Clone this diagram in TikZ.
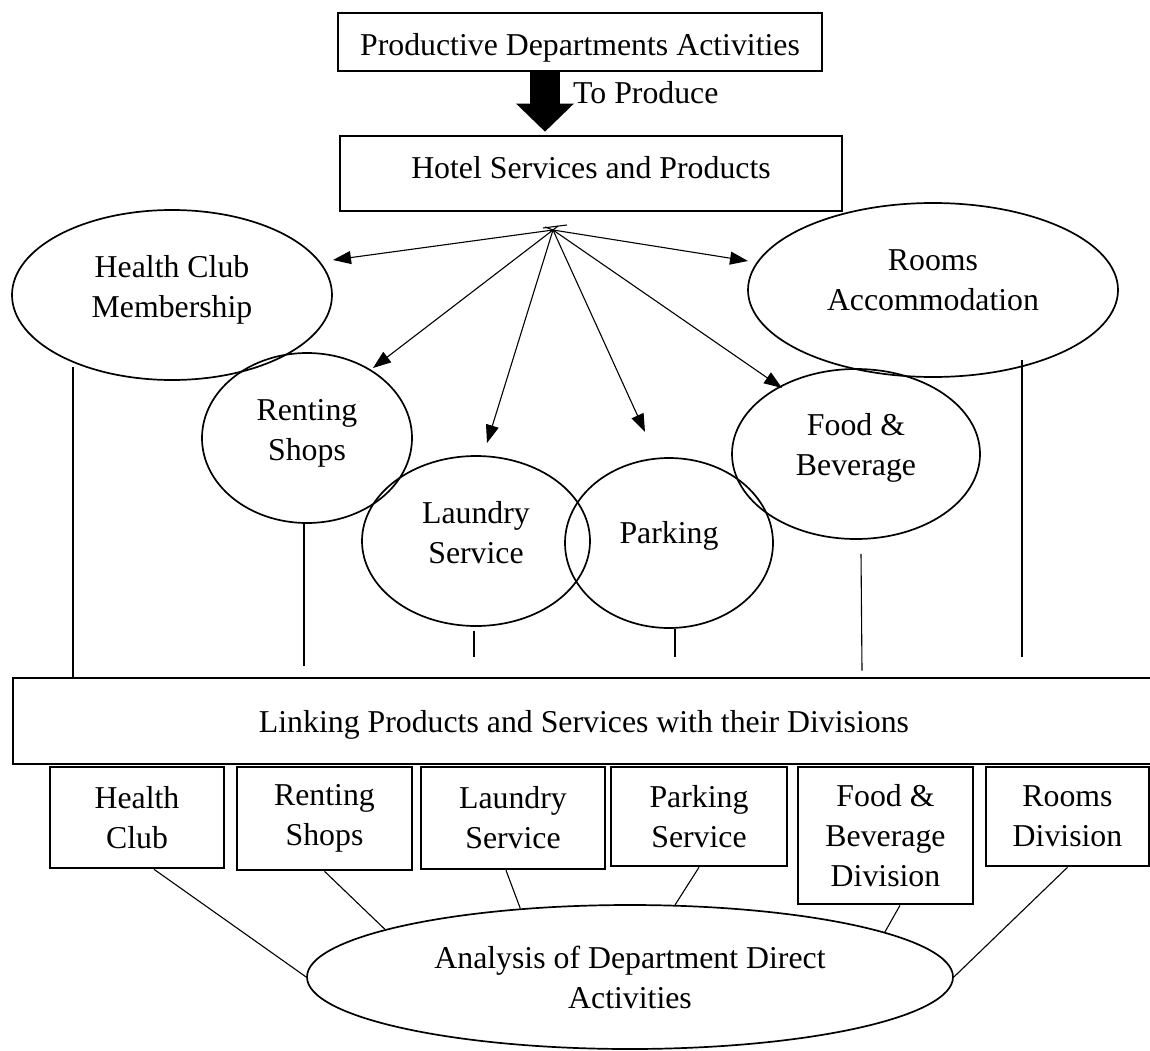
\documentclass[tikz,border=0pt]{standalone}
\usepackage{fontspec}
\setmainfont{Liberation Serif}
\usetikzlibrary{shapes.geometric,arrows.meta,calc}
\begin{document}
\begin{tikzpicture}[x=1pt,y=-1pt,
  every node/.style={font=\fontsize{31.8}{40}\selectfont},
  box/.style={draw,rectangle,line width=2.6pt,inner sep=0pt,align=center},
  oval/.style={draw,ellipse,line width=1.7pt,inner sep=0pt},
  txt/.style={align=center,inner sep=0pt},
  conn/.style={line width=1.1pt},
  arr/.style={conn,-{Triangle[length=18pt,width=13pt]}},
  bigarr/.style={line width=30pt,-{Triangle[length=28pt,width=56pt]}}]

\path[fill=white] (0,0) rectangle (1150,1051);
\useasboundingbox (0,0) rectangle (1150,1051);

% top boxes
\node[box,minimum width=484pt,minimum height=58pt] (top) at (580,42) {};
\node[txt] (topt) at ($(top)+(0,6)$) {Productive Departments Activities};
\node[box,minimum width=502pt,minimum height=75pt] (hotel) at (591,173.5) {};
\node[txt] (hotelt) at ($(hotel)+(0,-6)$) {Hotel Services and Products};
\draw[bigarr] ($(top.south)+(-35,0)$) -- ($(hotel.north)+(-46,-3)$);
\node[anchor=west,inner sep=0pt] (tp) at (573,93) {To Produce};

% products / services
\node[oval,minimum width=320pt,minimum height=170pt] (hc) at (172,295) {};
\node[txt] (hct) at ($(hc)+(0,-5)$) {Health Club\\Membership};
\node[oval,minimum width=370pt,minimum height=174pt] (ra) at (933,290) {};
\node[txt] (rat) at ($(ra)+(0,-10)$) {Rooms\\Accommodation};
\node[oval,minimum width=210pt,minimum height=170pt] (rs) at (307,438) {};
\node[txt] (rst) at ($(rs)+(0,-5)$) {Renting\\Shops};
\node[oval,minimum width=228pt,minimum height=170pt] (ls) at (476,541) {};
\node[txt] (lst) at ($(ls)+(0,-8)$) {Laundry\\Service};
\node[oval,minimum width=208pt,minimum height=170pt] (pk) at (669,543) {};
\node[txt] (pkt) at ($(pk)+(0,-7)$) {Parking};
\node[oval,minimum width=248pt,minimum height=170pt] (fb) at (856,454) {};
\node[txt] (fbt) at ($(fb)+(0,-6)$) {Food \&\\Beverage};

% hub and arrows
\coordinate (hub) at (553,230);
\draw[conn] ($(hub)+(-10,-2)$) -- ($(hub)+(14,-5)$);
\draw[conn] ($(hub)+(-8,-3)$) -- (hub) -- ($(hub)+(5,-4)$);
\coordinate (thc) at ($(hc.center)+(161,-35)$);
\coordinate (trs) at ($(rs.center)+(66,-70)$);
\coordinate (tls) at ($(ls.center)+(11,-98)$);
\coordinate (tpk) at ($(pk.center)+(-24,-111)$);
\coordinate (tfb) at ($(fb.center)+(-74,-66)$);
\coordinate (tra) at ($(ra.center)+(-185,-29)$);
\draw[arr] (hub) -- (thc);
\draw[arr] (hub) -- (trs);
\draw[arr] (hub) -- (tls);
\draw[arr] (hub) -- (tpk);
\draw[arr] (hub) -- (tfb);
\draw[arr] (hub) -- (tra);

% linking box
\node[box,minimum width=1142pt,minimum height=86pt] (link) at (584,721) {};
\node[txt] (linkt) at ($(link)+(0,4)$) {Linking Products and Services with their Divisions};

% drops
\coordinate (d1) at ($(hc.center)+(-99,72)$);
\coordinate (d2) at ($(rs.south)+(-3,0)$);
\coordinate (d3) at ($(ls.south)+(-2,4)$);
\coordinate (d4) at ($(pk.south)+(6,0)$);
\coordinate (d5) at ($(fb.south)+(5,14)$);
\coordinate (d6) at ($(ra.center)+(89,70)$);
\draw[conn] (d1) -- (d1 |- link.north);
\draw[conn] (d2) -- ($(d2 |- link.north)+(0,-11)$);
\draw[conn] (d3) -- ($(d3 |- link.north)+(0,-20)$);
\draw[conn] (d4) -- ($(d4 |- link.north)+(0,-20)$);
\draw[conn] (d5) -- ($(d5 |- link.north)+(1,-6)$);
\draw[conn] (d6) -- ($(d6 |- link.north)+(0,-20)$);

% divisions
\node[box,minimum width=174pt,minimum height=101pt] (hcb) at (137,817.5) {Health\\Club};
\node[box,minimum width=175pt,minimum height=103pt] (rsb) at (324.5,818.5) {Renting\\Shops};
\node[box,minimum width=184pt,minimum height=102pt] (lsb) at (513,818) {Laundry\\Service};
\node[box,minimum width=176pt,minimum height=99pt] (psb) at (699,816.5) {Parking\\Service};
\node[box,minimum width=175pt,minimum height=137pt] (fbb) at (885.5,835.5) {Food \&\\Beverage\\Division};
\node[box,minimum width=163pt,minimum height=99pt] (rdb) at (1067.5,816.5) {Rooms\\Division};

% analysis
\node[oval,minimum width=646pt,minimum height=144pt,align=center] (an) at (630,977) {Analysis of Department Direct\\Activities};

\draw[conn] ($(hcb.south)+(17,0)$) -- (an.180);
\draw[conn] (rsb.south) -- (an.169);
\draw[conn] ($(lsb.south)+(-7,0)$) -- (an.148);
\draw[conn] (psb.south) -- (an.58);
\draw[conn] ($(fbb.south)+(14.5,0)$) -- (an.10);
\draw[conn] (rdb.south) -- (an.0);
\end{tikzpicture}
\end{document}
